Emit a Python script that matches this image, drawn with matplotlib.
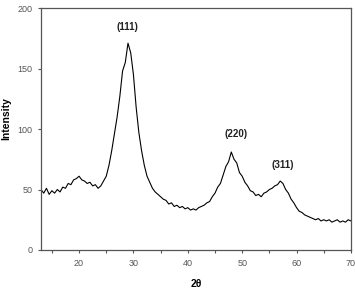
import matplotlib
matplotlib.use('Agg')
import matplotlib.pyplot as plt
from matplotlib.ticker import MultipleLocator

two_theta = [13.0, 13.5, 14.0, 14.5, 15.0, 15.5, 16.0, 16.5, 17.0, 17.5,
             18.0, 18.5, 19.0, 19.5, 20.0, 20.5, 21.0, 21.5, 22.0, 22.5,
             23.0, 23.5, 24.0, 24.5, 25.0, 25.5, 26.0, 26.5, 27.0, 27.5,
             28.0, 28.5, 29.0, 29.5, 30.0, 30.5, 31.0, 31.5, 32.0, 32.5,
             33.0, 33.5, 34.0, 34.5, 35.0, 35.5, 36.0, 36.5, 37.0, 37.5,
             38.0, 38.5, 39.0, 39.5, 40.0, 40.5, 41.0, 41.5, 42.0, 42.5,
             43.0, 43.5, 44.0, 44.5, 45.0, 45.5, 46.0, 46.5, 47.0, 47.5,
             48.0, 48.5, 49.0, 49.5, 50.0, 50.5, 51.0, 51.5, 52.0, 52.5,
             53.0, 53.5, 54.0, 54.5, 55.0, 55.5, 56.0, 56.5, 57.0, 57.5,
             58.0, 58.5, 59.0, 59.5, 60.0, 60.5, 61.0, 61.5, 62.0, 62.5,
             63.0, 63.5, 64.0, 64.5, 65.0, 65.5, 66.0, 66.5, 67.0, 67.5,
             68.0, 68.5, 69.0, 69.5, 70.0]
intensity = [50, 47, 51, 46, 49, 47, 50, 48, 52, 51,
             55, 54, 58, 59, 61, 58, 57, 55, 56, 53,
             54, 51, 53, 57, 61, 70, 82, 96, 110, 127,
             148, 155, 171, 163, 145, 118, 97, 82, 70, 61,
             56, 51, 48, 46, 44, 42, 41, 38, 39, 36,
             37, 35, 36, 34, 35, 33, 34, 33, 35, 36,
             37, 39, 40, 44, 47, 52, 55, 62, 69, 73,
             81, 75, 72, 64, 61, 56, 53, 49, 48, 45,
             46, 44, 47, 48, 50, 51, 53, 54, 57, 55,
             50, 47, 42, 39, 35, 32, 31, 29, 28, 27,
             26, 25, 26, 24, 25, 24, 25, 23, 24, 25,
             23, 24, 23, 25, 24]

peak_labels = ['(111)', '(220)', '(311)']
peak_x = [28.9, 48.8, 57.5]
peak_y = [184, 96, 70]

plt.rcParams['font.family'] = ['Liberation Sans', 'DejaVu Sans']

fig = plt.figure(figsize=(3.55, 2.89), dpi=100)
ax = fig.add_axes([0.1155, 0.135, 0.873, 0.837])
ax.plot(two_theta, intensity, color='black', linewidth=0.8)

for lab, px, py in zip(peak_labels, peak_x, peak_y):
    ax.text(px, py, lab, ha='center', va='center', fontsize=7,
            fontweight='bold', color='#222222')

ax.set_xlim(13, 70)
ax.set_ylim(0, 200)
ax.xaxis.set_major_locator(MultipleLocator(10))
ax.xaxis.set_minor_locator(MultipleLocator(5))
ax.yaxis.set_major_locator(MultipleLocator(50))
ax.tick_params(which='both', direction='out', length=2.5, width=0.8,
               colors='#555555', labelsize=6.5)
ax.tick_params(axis='x', pad=4)
for side in ax.spines:
    ax.spines[side].set_color('#555555')
    ax.spines[side].set_linewidth(0.9)

ax.set_xlabel('2θ', fontsize=7.5, fontweight='bold', labelpad=8)
ax.set_ylabel('Intensity', fontsize=7.5, fontweight='bold')
ax.yaxis.set_label_coords(-0.095, 0.545)

fig.savefig('out.png', dpi=100)
